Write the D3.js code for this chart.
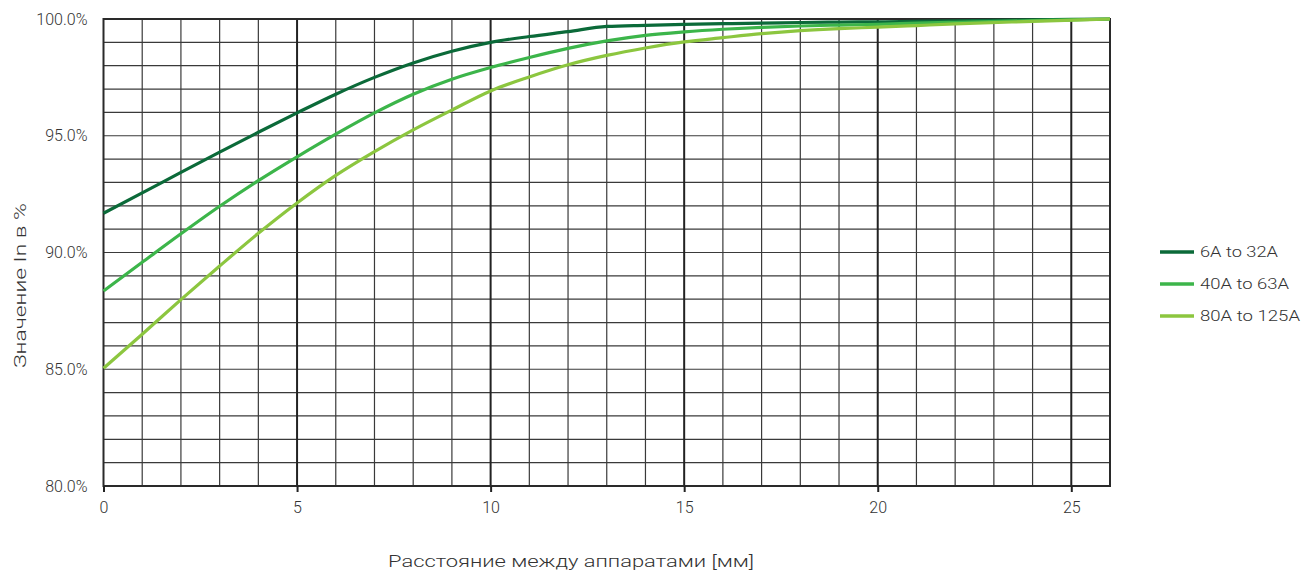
<!DOCTYPE html>
<html>
<head>
<meta charset="utf-8">
<script src="https://cdn.jsdelivr.net/npm/d3@7"></script>
<style>
  html, body { margin: 0; padding: 0; background: #fff; }
  svg { display: block; }
  text { font-family: Roboto, "Liberation Sans", sans-serif; font-weight: 300; fill: #333; }
</style>
</head>
<body>
<script>
// ---- data ----
const xValues = [0, 1, 2, 3, 4, 5, 6, 7, 8, 9, 10, 11, 12, 13, 14, 15, 16, 17, 18, 19, 20, 21, 22, 24, 26];
const series1Name = "6A to 32A";
const series1 = [91.68, 92.55, 93.43, 94.3, 95.15, 95.98, 96.78, 97.5, 98.12, 98.62, 99.0, 99.25, 99.46, 99.68, 99.73, 99.77, 99.8, 99.82, 99.85, 99.87, 99.88, 99.9, 99.92, 99.96, 100];
const series2Name = "40A to 63A";
const series2 = [88.35, 89.58, 90.8, 91.98, 93.08, 94.1, 95.07, 95.98, 96.78, 97.42, 97.92, 98.35, 98.74, 99.06, 99.3, 99.45, 99.56, 99.64, 99.7, 99.74, 99.77, 99.82, 99.86, 99.93, 100];
const series3Name = "80A to 125A";
const series3 = [85.04, 86.5, 87.98, 89.42, 90.82, 92.12, 93.3, 94.32, 95.25, 96.1, 96.92, 97.52, 98.04, 98.44, 98.76, 99.02, 99.2, 99.37, 99.5, 99.59, 99.65, 99.72, 99.79, 99.9, 100];
const xTicks = [0, 5, 10, 15, 20, 25];
const yTicks = [80, 85, 90, 95, 100];
const xTitle = "Расстояние между аппаратами [мм]";
const yTitle = "Значение In в %";

const seriesNames = [series1Name, series2Name, series3Name];
const seriesData = [series1, series2, series3];
const colors = ["#0b6a39", "#3cb54a", "#8cc63f"];

// ---- layout ----
const W = 1302, H = 573;
const mLeft = 103.5, mRight = 1110, mTop = 19, mBottom = 486;
const legendWidths = [78, 89, 100];

const svg = d3.select("body").append("svg").attr("width", W).attr("height", H);

const x = d3.scaleLinear().domain([0, 26]).range([mLeft, mRight]);
const y = d3.scaleLinear().domain([80, 100]).range([mBottom, mTop]);

// grid: horizontal every 1%
const g = svg.append("g");
g.selectAll("line.h").data(d3.range(81, 100)).enter().append("line")
  .attr("x1", mLeft).attr("x2", mRight)
  .attr("y1", d => y(d)).attr("y2", d => y(d))
  .attr("stroke", "#3a3a3a").attr("stroke-width", 1.2);
// vertical every 1 unit
g.selectAll("line.v").data(d3.range(1, 26)).enter().append("line")
  .attr("y1", mTop).attr("y2", mBottom)
  .attr("x1", d => x(d)).attr("x2", d => x(d))
  .attr("stroke", d => d % 5 === 0 ? "#222" : "#3a3a3a")
  .attr("stroke-width", d => d % 5 === 0 ? 2 : 1.2);

// border
svg.append("rect").attr("x", mLeft).attr("y", mTop)
  .attr("width", mRight - mLeft).attr("height", mBottom - mTop)
  .attr("fill", "none").attr("stroke", "#2a2a2a").attr("stroke-width", 2);

// x axis
const xAxis = d3.axisBottom(x).tickValues(xTicks).tickSize(6).tickPadding(10).tickFormat(d3.format("d"));
const xg = svg.append("g").attr("transform", `translate(0,${mBottom})`).call(xAxis);
xg.select(".domain").remove();
xg.selectAll(".tick line").attr("stroke", "#222").attr("stroke-width", 2);
xg.selectAll(".tick text").style("font-family", "Roboto, 'Liberation Sans', sans-serif")
  .style("font-weight", 300).style("font-size", "16px").attr("fill", "#333");

// y axis
const yAxis = d3.axisLeft(y).tickValues(yTicks).tickSize(0).tickPadding(16).tickFormat(d => d3.format(".1f")(d) + "%");
const yg = svg.append("g").attr("transform", `translate(${mLeft},0)`).call(yAxis);
yg.select(".domain").remove();
yg.selectAll(".tick text").style("font-family", "Roboto, 'Liberation Sans', sans-serif")
  .style("font-weight", 300).style("font-size", "16px").attr("fill", "#333");

// lines
const line = d3.line().x((d, i) => x(xValues[i])).y(d => y(d)).curve(d3.curveMonotoneX);
seriesData.forEach((s, i) => {
  svg.append("path").datum(s).attr("d", line)
    .attr("fill", "none").attr("stroke", colors[i]).attr("stroke-width", 3.2)
    .attr("stroke-linejoin", "round");
});

// titles
svg.append("text").attr("x", 388).attr("y", 567)
  .attr("textLength", 366).attr("lengthAdjust", "spacingAndGlyphs")
  .style("font-size", "17px").text(xTitle);
svg.append("text").attr("transform", "translate(26,368) rotate(-90)")
  .attr("textLength", 165).attr("lengthAdjust", "spacingAndGlyphs")
  .style("font-size", "17px").text(yTitle);

// legend
const legend = svg.append("g");
seriesNames.forEach((n, i) => {
  const ly = 252 + i * 32;
  legend.append("line").attr("x1", 1160).attr("x2", 1194).attr("y1", ly).attr("y2", ly)
    .attr("stroke", colors[i]).attr("stroke-width", 3.5);
  legend.append("text").attr("x", 1200).attr("y", ly).attr("dy", "0.35em")
    .attr("textLength", legendWidths[i]).attr("lengthAdjust", "spacingAndGlyphs")
    .style("font-size", "15px").text(n);
});
</script>
</body>
</html>
